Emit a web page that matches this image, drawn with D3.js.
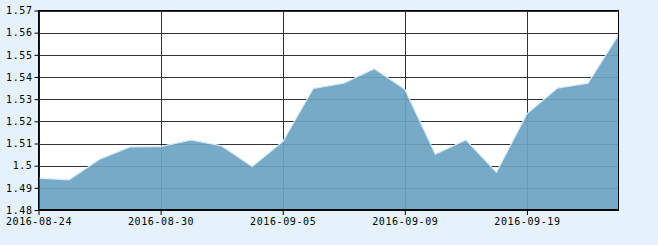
<!DOCTYPE html>
<html>
<head>
<meta charset="utf-8">
<script src="https://cdn.jsdelivr.net/npm/d3@7"></script>
<style>
  html, body { margin: 0; padding: 0; background: #e6f2fb; }
  svg { display: block; }
</style>
</head>
<body>
<svg id="chart"></svg>
<script>
// trading days shown on the x axis
const dates = [
  "2016-08-24", "2016-08-25", "2016-08-26", "2016-08-29", "2016-08-30",
  "2016-08-31", "2016-09-01", "2016-09-02", "2016-09-05", "2016-09-06",
  "2016-09-07", "2016-09-08", "2016-09-09", "2016-09-12", "2016-09-13",
  "2016-09-14", "2016-09-19", "2016-09-20", "2016-09-21", "2016-09-22"
];

const values = [
  1.4944, 1.4936, 1.5029, 1.5085, 1.5086,
  1.5116, 1.5089, 1.4996, 1.5108, 1.5348,
  1.5372, 1.5437, 1.5345, 1.5052, 1.5116,
  1.4970, 1.5234, 1.5350, 1.5372, 1.5590
];

const yTicks = [1.48, 1.49, 1.50, 1.51, 1.52, 1.53, 1.54, 1.55, 1.56, 1.57];
const xTickLabels = ["2016-08-24", "2016-08-30", "2016-09-05", "2016-09-09", "2016-09-19"];

const width = 658;
const height = 245;
const margin = {top: 10.5, right: 39.5, bottom: 35, left: 38.5};

const svg = d3.select("#chart")
  .attr("width", width)
  .attr("height", height);

const x = d3.scalePoint()
  .domain(dates)
  .range([margin.left, width - margin.right]);

const y = d3.scaleLinear()
  .domain([1.48, 1.57])
  .range([height - margin.bottom, margin.top]);

const fmt = d => d3.format(".2f")(d).replace(/0$/, "").replace(/\.$/, "");

// plot background
svg.append("rect")
  .attr("x", margin.left)
  .attr("y", margin.top)
  .attr("width", width - margin.left - margin.right)
  .attr("height", height - margin.top - margin.bottom)
  .attr("fill", "#fff");

// grid
svg.append("g")
  .selectAll("line")
  .data(yTicks)
  .join("line")
    .attr("x1", margin.left)
    .attr("x2", width - margin.right)
    .attr("y1", d => Math.round(y(d)) + 0.5)
    .attr("y2", d => Math.round(y(d)) + 0.5)
    .attr("stroke", "#333");

svg.append("g")
  .selectAll("line")
  .data(xTickLabels)
  .join("line")
    .attr("x1", d => Math.round(x(d)) + 0.5)
    .attr("x2", d => Math.round(x(d)) + 0.5)
    .attr("y1", margin.top)
    .attr("y2", height - margin.bottom)
    .attr("stroke", "#333");

// area
const area = d3.area()
  .x(d => x(d.date))
  .y0(y(1.48))
  .y1(d => y(d.value));

const line = d3.line()
  .x(d => x(d.date))
  .y(d => y(d.value));

const data = dates.map((d, i) => ({date: d, value: values[i]}));

svg.append("path")
  .datum(data)
  .attr("d", area)
  .attr("fill", "#6ba3c2")
  .attr("fill-opacity", 0.92);

svg.append("path")
  .datum(data)
  .attr("d", line)
  .attr("fill", "none")
  .attr("stroke", "#d8ecf8")
  .attr("stroke-width", 1.2);

// frame
svg.append("rect")
  .attr("x", margin.left)
  .attr("y", margin.top)
  .attr("width", width - margin.left - margin.right)
  .attr("height", height - margin.top - margin.bottom - 0.5)
  .attr("fill", "none")
  .attr("stroke", "#000");

// y axis
const yAxis = svg.append("g")
  .attr("transform", `translate(${margin.left},0)`)
  .call(d3.axisLeft(y).tickValues(yTicks).tickFormat(fmt).tickSize(4).tickSizeOuter(0).tickPadding(2));

// x axis
const xAxis = svg.append("g")
  .attr("transform", `translate(0,${height - margin.bottom})`)
  .call(d3.axisBottom(x).tickValues(xTickLabels).tickSize(5).tickSizeOuter(0).tickPadding(3));

[yAxis, xAxis].forEach(g => {
  g.select(".domain").attr("stroke", "#000");
  g.selectAll(".tick line").attr("stroke", "#000");
  g.selectAll("text")
    .attr("font-family", "DejaVu Sans Mono, monospace")
    .attr("font-size", 10)
    .attr("letter-spacing", 0.6)
    .attr("fill", "#000");
});
</script>
</body>
</html>
